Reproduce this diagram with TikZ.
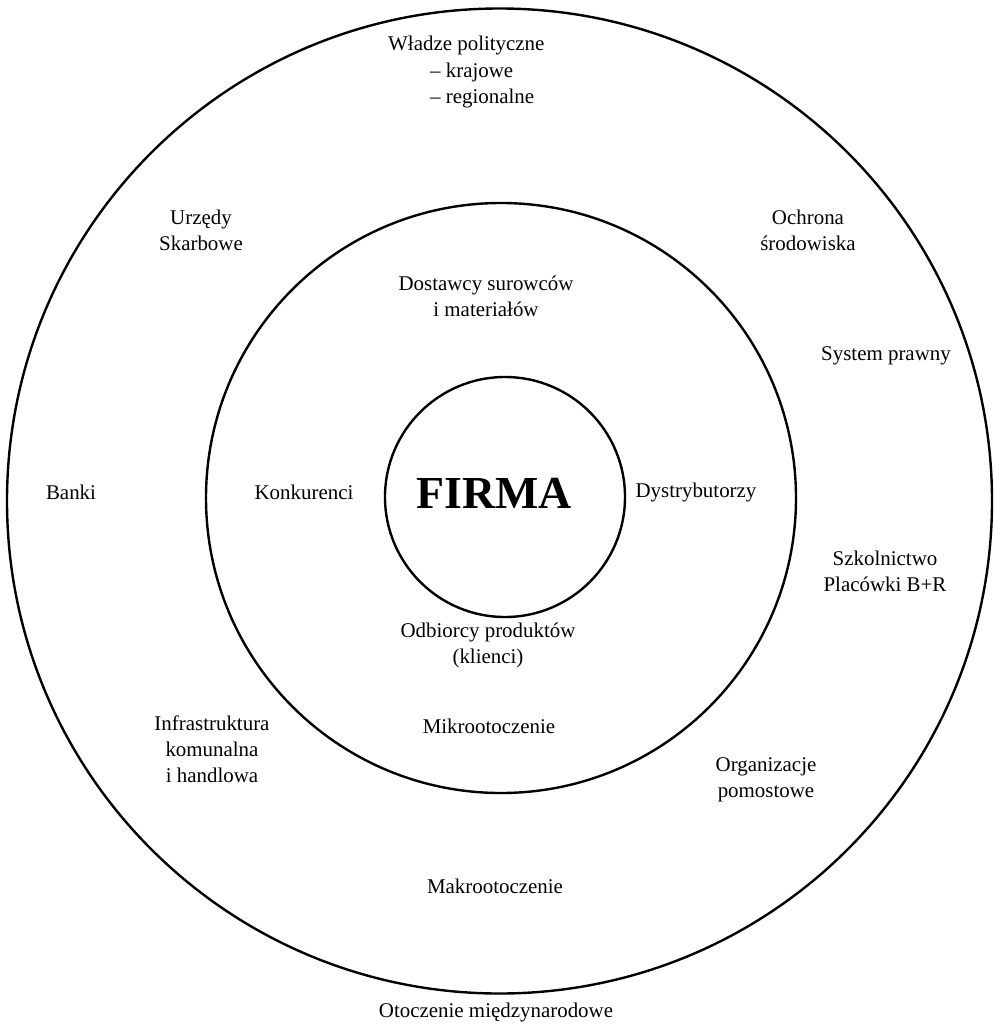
\documentclass[tikz,border=0pt]{standalone}
\usepackage{fontspec}
\setmainfont{Liberation Serif}
\begin{document}
\begin{tikzpicture}[x=1bp,y=-1bp,
  ring/.style={draw=black,line width=2.4bp,circle,inner sep=0pt},
  lab/.style={align=center,font=\fontsize{21}{26}\selectfont,inner sep=0pt}]
\useasboundingbox (0,0) rectangle (994,1025);
\fill[white] (0,0) rectangle (994,1025);
\node[ring,minimum size=985bp] (outer) at (499.5,501) {};
\node[ring,minimum size=590bp] (middle) at (501,498) {};
\node[ring,minimum size=240bp] (inner) at (505,497) {};
\node[lab,font=\bfseries\fontsize{46}{50}\selectfont] (firma) at (494,493) {FIRMA};
\node[lab,anchor=west] (wl1) at (388,45) {Władze polityczne};
\node[lab,anchor=west] (wl2) at (430,72) {– krajowe};
\node[lab,anchor=west] (wl3) at (430,98) {– regionalne};
\node[lab] (urz) at (201,230) {Urzędy\\Skarbowe};
\node[lab] (och) at (808,230) {Ochrona\\środowiska};
\node[lab] (dost) at (486,296) {Dostawcy surowców\\i materiałów};
\node[lab] (sys) at (886,356) {System prawny};
\node[lab] (banki) at (71,492) {Banki};
\node[lab] (konk) at (304,492) {Konkurenci};
\node[lab] (dyst) at (696,492) {Dystrybutorzy};
\node[lab] (szk) at (885,571) {Szkolnictwo\\Placówki B+R};
\node[lab] (odb) at (488,645) {Odbiorcy produktów\\(klienci)};
\node[lab] (mikro) at (489,726) {Mikrootoczenie};
\node[lab] (infra) at (212,749) {Infrastruktura\\komunalna\\i handlowa};
\node[lab] (org) at (766,780) {Organizacje\\pomostowe};
\node[lab] (makro) at (495,886) {Makrootoczenie};
\node[lab] (otocz) at (496,1012) {Otoczenie międzynarodowe};
\end{tikzpicture}
\end{document}
